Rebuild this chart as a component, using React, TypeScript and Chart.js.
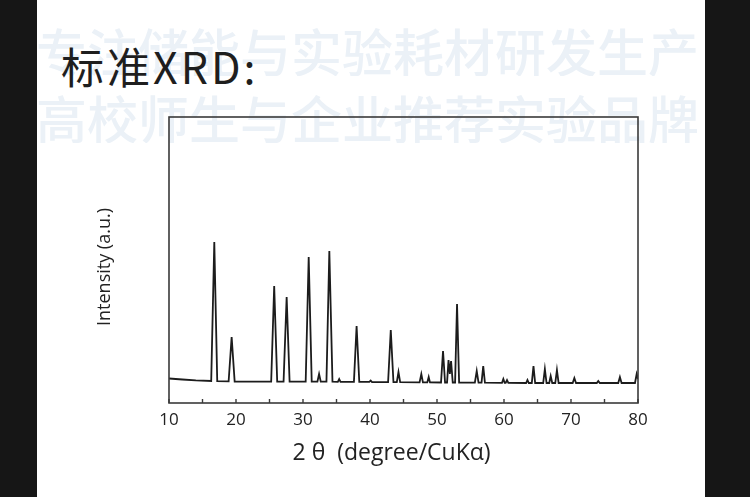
import { useEffect, useRef } from 'react';
import { Chart, registerables } from 'chart.js';

Chart.register(...registerables);

// 2θ positions (degrees) of the traced pattern
const thetaValues = [
  10.0, 12.0, 14.0, 16.3, 16.76, 17.2, 18.9, 19.35, 19.8,
  25.25, 25.7, 26.15, 27.1, 27.56, 28.0, 30.4, 30.85, 31.3,
  32.15, 32.4, 32.65, 33.5, 33.93, 34.4, 35.2, 35.4, 35.6,
  37.6, 38.0, 38.4, 39.9, 40.1, 40.3, 42.7, 43.1, 43.5,
  44.0, 44.25, 44.5, 47.4, 47.66, 47.9, 48.55, 48.76, 48.95,
  50.6, 50.9, 51.2, 51.5, 51.72, 51.92, 52.1, 52.35, 52.7, 52.99, 53.3,
  55.65, 55.93, 56.2, 56.65, 56.9, 57.15, 59.7, 59.9, 60.1,
  60.25, 60.45, 60.65, 63.3, 63.5, 63.7, 64.15, 64.4, 64.65,
  65.85, 66.1, 66.35, 66.75, 66.97, 67.2, 67.65, 67.9, 68.15,
  70.25, 70.5, 70.75, 73.85, 74.07, 74.3, 77.05, 77.3, 77.55,
  79.55, 79.8, 80.0,
];

// Intensity (a.u.) at each 2θ position
const intensityValues = [
  24.5, 23.5, 22.6, 22.0, 161, 21.8, 21.6, 66, 21.5,
  21.3, 117, 21.3, 21.3, 106, 21.3, 21.3, 146, 21.3,
  21.3, 29, 21.3, 21.3, 152, 21.3, 21.2, 24, 21.2,
  21.2, 77, 21.2, 21.2, 22.5, 21.0, 20.8, 73, 20.8,
  20.8, 31, 20.8, 20.6, 29, 20.6, 20.6, 26, 20.6,
  20.5, 52, 20.5, 20.5, 43, 29, 42, 20.5, 20.5, 99, 20.5,
  20.3, 32, 20.3, 20.3, 37, 20.3, 20.2, 24, 20.2,
  20.2, 23, 20.2, 20.0, 23, 20.0, 20.0, 37, 20.0,
  20.0, 34, 20.0, 20.0, 27, 20.0, 20.0, 33, 20.0,
  20.0, 25, 20.0, 20.0, 22, 20.0, 20.0, 26, 20.0,
  20.0, 29, 24,
];

const xTickLabels = ['10', '20', '30', '40', '50', '60', '70', '80'];
const xTitle = '2 θ  (degree/CuKα)';
const yTitle = 'Intensity (a.u.)';
const pageTitle = '标准XRD:';
const watermarkLine1 = '专注储能与实验耗材研发生产';
const watermarkLine2 = '高校师生与企业推荐实验品牌';

const framePlugin = {
  id: 'frameAndTicks',
  afterDraw(chart: any) {
    const { ctx, chartArea } = chart;
    const { left, top, right, bottom } = chartArea;
    const xs = chart.scales.x;
    ctx.save();
    ctx.strokeStyle = '#3a3a3a';
    ctx.lineWidth = 1.6;
    ctx.strokeRect(left, top, right - left, bottom - top);
    ctx.lineWidth = 1.4;
    xs.ticks.forEach((t: any) => {
      const px = xs.getPixelForValue(t.value);
      ctx.beginPath();
      ctx.moveTo(px, bottom);
      ctx.lineTo(px, bottom - 4);
      ctx.stroke();
    });
    ctx.restore();
  },
};

function XrdChart() {
  const ref = useRef<HTMLCanvasElement | null>(null);
  useEffect(() => {
    if (!ref.current) return;
    const points = thetaValues.map((x, i) => ({ x, y: intensityValues[i] }));
    const chart = new Chart(ref.current, {
      type: 'line',
      data: {
        datasets: [
          {
            data: points,
            borderColor: '#1c1c1c',
            borderWidth: 1.8,
            pointRadius: 0,
            tension: 0,
            fill: false,
          },
        ],
      },
      options: {
        animation: false,
        responsive: false,
        maintainAspectRatio: false,
        layout: { padding: { left: 91, right: 112, top: 117, bottom: 30 } },
        plugins: { legend: { display: false }, tooltip: { enabled: false }, title: { display: false } },
        scales: {
          x: {
            type: 'linear',
            min: 10,
            max: 80,
            grid: { display: false, drawTicks: false },
            border: { display: false },
            ticks: {
              stepSize: 5,
              autoSkip: false,
              maxRotation: 0,
              padding: 7,
              color: '#222',
              font: { family: '"Open Sans"', size: 17 },
              callback: (v: any) => {
                const s = String(v);
                return xTickLabels.includes(s) ? s : '';
              },
            },
            title: {
              display: true,
              text: xTitle + '    ',
              color: '#222',
              font: { family: '"Open Sans"', size: 23 },
              padding: { top: 0, bottom: 0 },
            },
            afterFit: (scale: any) => {
              scale.height = 64;
            },
          },
          y: {
            min: 0,
            max: 286,
            grid: { display: false, drawTicks: false },
            border: { display: false },
            ticks: { display: false },
            title: {
              display: true,
              text: yTitle + '   ',
              color: '#222',
              font: { family: '"Open Sans"', size: 18 },
              padding: { top: 3, bottom: 0 },
            },
            afterFit: (scale: any) => {
              scale.width = 78;
            },
          },
        },
      },
      plugins: [framePlugin],
    });
    return () => chart.destroy();
  }, []);
  return (
    <canvas
      ref={ref}
      width={750}
      height={497}
      style={{ position: 'absolute', left: 0, top: 0, width: 750, height: 497 }}
    />
  );
}

export default function App() {
  const wm: any = {
    position: 'absolute',
    left: 36,
    width: 669,
    fontFamily: '"Noto Sans CJK SC"',
    fontSize: 51,
    lineHeight: '51px',
    fontWeight: 500,
    color: '#ebf1f7',
    whiteSpace: 'nowrap',
    overflow: 'hidden',
  };
  return (
    <div style={{ position: 'fixed', left: 0, top: 0, width: 750, height: 497, background: '#fff', overflow: 'hidden' }}>
      <div style={{ ...wm, top: 25 }}>{watermarkLine1}</div>
      <div style={{ ...wm, top: 92 }}>{watermarkLine2}</div>
      <div
        style={{
          position: 'absolute',
          left: 61,
          top: 41,
          fontFamily: '"Noto Sans CJK SC"',
          fontSize: 43,
          lineHeight: '48px',
          fontWeight: 400,
          letterSpacing: 3,
          color: '#1e1e1e',
          whiteSpace: 'nowrap',
        }}
      >
        {pageTitle}
      </div>
      <XrdChart />
      <div style={{ position: 'absolute', left: 0, top: 0, width: 37, height: 497, background: '#161616' }} />
      <div style={{ position: 'absolute', left: 705, top: 0, width: 45, height: 497, background: '#161616' }} />
    </div>
  );
}
